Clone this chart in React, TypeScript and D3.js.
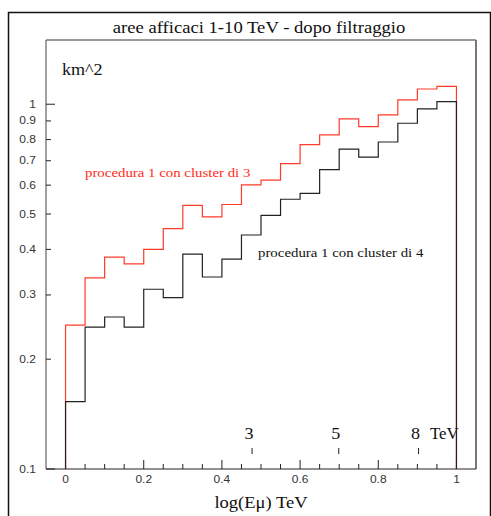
import React from "react";
import * as d3 from "d3";

const binEdges = [0, 0.05, 0.1, 0.15, 0.2, 0.25, 0.3, 0.35, 0.4, 0.45, 0.5, 0.55, 0.6, 0.65, 0.7, 0.75, 0.8, 0.85, 0.9, 0.95];
const cluster3 = [0.248, 0.334, 0.381, 0.365, 0.400, 0.456, 0.528, 0.491, 0.531, 0.601, 0.619, 0.687, 0.775, 0.824, 0.912, 0.868, 0.935, 1.028, 1.101, 1.12];
const cluster4 = [0.153, 0.245, 0.261, 0.245, 0.311, 0.295, 0.388, 0.336, 0.376, 0.438, 0.496, 0.549, 0.570, 0.662, 0.753, 0.716, 0.788, 0.887, 0.971, 1.017];
const yTickValues = [0.1, 0.2, 0.3, 0.4, 0.5, 0.6, 0.7, 0.8, 0.9, 1];
const xMajorTicks = [0, 0.2, 0.4, 0.6, 0.8, 1];
const energyTicks = [3, 5, 8];

const W = 491;
const H = 516;
const serif = "'Liberation Serif', 'DejaVu Serif', serif";
const sans = "'Liberation Sans', Arial, sans-serif";

type TProps = {
  x: number;
  y: number;
  sx?: number;
  anchor?: "start" | "middle" | "end";
  font: string;
  size: number;
  fill: string;
  children: React.ReactNode;
};

function T({ x, y, sx = 1, anchor = "start", font, size, fill, children }: TProps) {
  return (
    <text
      transform={`translate(${x},${y}) scale(${sx},1)`}
      textAnchor={anchor}
      fontFamily={font}
      fontSize={size}
      fill={fill}
    >
      {children}
    </text>
  );
}

export default function App() {
  const x = d3.scaleLinear().domain([-0.05, 1.05]).range([46, 476]);
  const y = d3.scaleLog().domain([0.1, 1.5]).range([469, 40]);

  const makePath = (vals: number[]) => {
    const pts: [number, number][] = [[0, 0.1]];
    vals.forEach((v, i) => pts.push([binEdges[i], v]));
    pts.push([1, vals[vals.length - 1]]);
    pts.push([1, 0.1]);
    return d3
      .line<[number, number]>()
      .x((d) => x(d[0]))
      .y((d) => y(d[1]))
      .curve(d3.curveStepAfter)(pts) as string;
  };

  const minorX = d3
    .range(0, 21)
    .map((i) => i * 0.05)
    .filter((v) => !xMajorTicks.some((m) => Math.abs(m - v) < 1e-6));

  const SX = 1.13;
  const TX = 1.2;

  return (
    <svg width={W} height={H} style={{ position: "absolute", left: 0, top: 0, background: "#fff" }}>
      <rect x={0} y={0} width={W} height={H} fill="#fff" />
      {/* outer frame */}
      <path d={`M8.5,${H + 2} V12.5 H490.5 V${H + 2}`} fill="none" stroke="#111" strokeWidth={1.5} />
      <T x={259} y={33} sx={SX} anchor="middle" font={serif} size={16.5} fill="#111">
        aree afficaci 1-10 TeV - dopo filtraggio
      </T>
      {/* plot frame */}
      <line x1={46} y1={40} x2={476} y2={40} stroke="#333" strokeWidth={1} />
      <line x1={46} y1={40} x2={46} y2={469} stroke="#444" strokeWidth={1} />
      <line x1={476} y1={40} x2={476} y2={469} stroke="#777" strokeWidth={2} />
      <line x1={46} y1={469} x2={476} y2={469} stroke="#222" strokeWidth={1} />

      <T x={62} y={75} sx={SX} font={serif} size={16} fill="#111">km^2</T>

      {/* y ticks */}
      {yTickValues.map((v) => {
        const major = v === 1 || v === 0.1;
        return (
          <g key={v}>
            <line x1={46} x2={46 + (major ? 9 : 5)} y1={y(v)} y2={y(v)} stroke="#222" />
            <T x={36} y={y(v) + 3.5} sx={TX} anchor="end" font={sans} size={10} fill="#333">
              {v}
            </T>
          </g>
        );
      })}

      {/* x ticks */}
      {xMajorTicks.map((v) => (
        <g key={v}>
          <line x1={x(v)} x2={x(v)} y1={469} y2={460} stroke="#222" />
          <T x={x(v)} y={483} sx={TX} anchor="middle" font={sans} size={10} fill="#333">
            {v}
          </T>
        </g>
      ))}
      {minorX.map((v) => (
        <line key={v} x1={x(v)} x2={x(v)} y1={469} y2={464} stroke="#222" />
      ))}

      {/* energy markers */}
      {energyTicks.map((e) => (
        <g key={e}>
          <line x1={x(Math.log10(e))} x2={x(Math.log10(e))} y1={448} y2={454} stroke="#222" />
          <T x={x(Math.log10(e)) - 3} y={439} sx={SX} anchor="middle" font={serif} size={16} fill="#111">
            {e}
          </T>
        </g>
      ))}
      <T x={430} y={439} sx={1.05} font={serif} size={16} fill="#111">TeV</T>

      {/* histograms */}
      <path d={makePath(cluster3)} fill="none" stroke="#ff3b2a" strokeWidth={1.2} />
      <path d={makePath(cluster4)} fill="none" stroke="#222" strokeWidth={1.2} />

      <T x={85} y={177} sx={1.1} font={serif} size={13.5} fill="#ff2a1a">
        procedura 1 con cluster di 3
      </T>
      <T x={258} y={257} sx={1.1} font={serif} size={13.5} fill="#111">
        procedura 1 con cluster di 4
      </T>

      <T x={261} y={508} sx={1.09} anchor="middle" font={serif} size={17} fill="#111">
        log(Eμ) TeV
      </T>
    </svg>
  );
}
